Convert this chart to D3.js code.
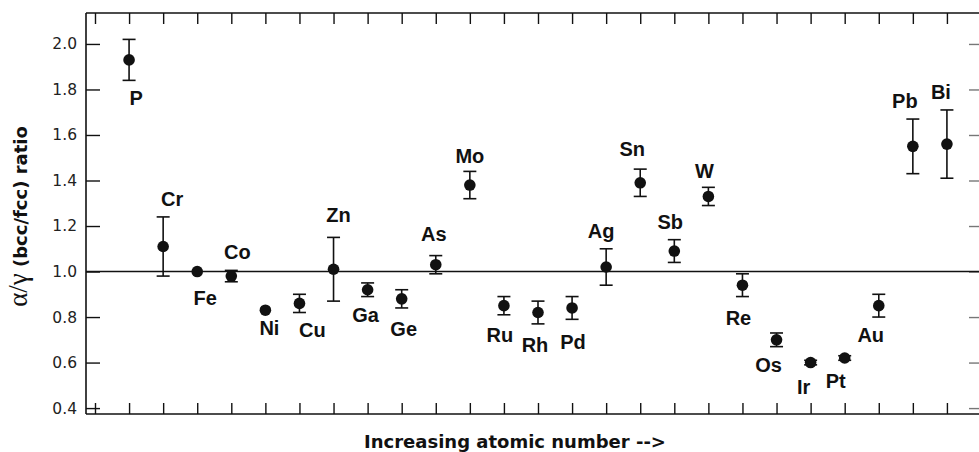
<!DOCTYPE html>
<html>
<head>
<meta charset="utf-8">
<script src="https://cdn.jsdelivr.net/npm/d3@7"></script>
<style>
  html, body { margin: 0; padding: 0; background: #fff; }
  svg { display: block; }
</style>
</head>
<body>
<svg id="chart" width="979" height="452"></svg>
<script>
// ---- data ----
const elements = ["P","Cr","Fe","Co","Ni","Cu","Zn","Ga","Ge","As","Mo","Ru","Rh","Pd","Ag","Sn","Sb","W","Re","Os","Ir","Pt","Au","Pb","Bi"];
const ratios   = [1.93,1.11,1.00,0.98,0.83,0.86,1.01,0.92,0.88,1.03,1.38,0.85,0.82,0.84,1.02,1.39,1.09,1.33,0.94,0.70,0.60,0.62,0.85,1.55,1.56];
const errors   = [0.09,0.13,0.00,0.025,0.00,0.04,0.14,0.03,0.04,0.04,0.06,0.04,0.05,0.05,0.08,0.06,0.05,0.04,0.05,0.03,0.01,0.01,0.05,0.12,0.15];
const labelSide = ["below","above","below","above","below","below","above","below","below","above","above","below","below","below","above","above","above","above","below","below","below","below","below","above","above"];
const yTickValues = [0.4,0.6,0.8,1.0,1.2,1.4,1.6,1.8,2.0];
const xTickValues = d3.range(0, 27);
const referenceLine = 1.0;

// ---- layout (label nudges in px) ----
const labelDx = [7,9,8,6,4,13,5,-2,2,-2,0,-4,-3,1,-5,-8,-4,-4,-4,-8,-7,-9,-8,-8,-6];
const labelDy = [0,0,8,0,0,0,-4,0,3,-4,3,2,3,5,0,-2,0,2,3,0,4,3,0,0,0];

const svg = d3.select("#chart");
const pL = 86, pR = 981, pT = 13, pB = 414;

const x = d3.scaleLinear().domain([-0.264, 26.0]).range([pL, pR]);
const y = d3.scaleLinear().domain([0.374, 2.136]).range([pB, pT]);

const ink = "#111";
const font = "'DejaVu Sans', Arial, sans-serif";
const labelFont = "'Liberation Sans', Arial, sans-serif";

// axes
const axisBottom = d3.axisBottom(x).tickValues(xTickValues).tickSize(-11).tickFormat("");
const axisTop = d3.axisTop(x).tickValues(xTickValues).tickSize(-11).tickFormat("");
const axisLeft = d3.axisLeft(y).tickValues(yTickValues).tickSize(-14).tickPadding(9).tickFormat(d3.format(".1f"));
const axisRight = d3.axisRight(y).tickValues(yTickValues).tickSize(-12).tickFormat("");

function style(g) {
  g.selectAll("path.domain").attr("stroke", ink).attr("stroke-width", 1.6);
  g.selectAll(".tick line").attr("stroke", ink).attr("stroke-width", 1.4);
  g.selectAll(".tick text").attr("fill", "#222").attr("font-family", font).attr("font-size", 15.5);
}
svg.append("g").attr("transform", `translate(0,${pB})`).call(axisBottom).call(g => g.select(".domain").attr("d", `M${pL},0H${pR}`)).call(style);
svg.append("g").attr("transform", `translate(0,${pT})`).call(axisTop).call(g => g.select(".domain").attr("d", `M${pL},0H${pR}`)).call(style);
svg.append("g").attr("transform", `translate(${pL},0)`).call(axisLeft).call(g => g.select(".domain").attr("d", `M0,${pT}V${pB}`)).call(style);
svg.append("g").attr("transform", `translate(${pR},0)`).call(axisRight).call(g => g.select(".domain").attr("d", `M0,${pT}V${pB}`)).call(style)
  .call(g => g.selectAll(".tick line").attr("stroke", "#777"));

// reference line
svg.append("line")
  .attr("x1", pL).attr("x2", pR)
  .attr("y1", y(referenceLine)).attr("y2", y(referenceLine))
  .attr("stroke", ink).attr("stroke-width", 1.6);

const data = elements.map((el, i) => ({ el, idx: i + 1, v: ratios[i], e: errors[i], side: labelSide[i], dx: labelDx[i], dy: labelDy[i] }));

// error bars
const eb = svg.append("g").selectAll("g").data(data.filter(d => d.e > 0)).join("g")
  .attr("stroke", ink).attr("stroke-width", 1.6);
eb.append("line").attr("x1", d => x(d.idx)).attr("x2", d => x(d.idx)).attr("y1", d => y(d.v + d.e)).attr("y2", d => y(d.v - d.e));
eb.append("line").attr("x1", d => x(d.idx) - 6.5).attr("x2", d => x(d.idx) + 6.5).attr("y1", d => y(d.v + d.e)).attr("y2", d => y(d.v + d.e));
eb.append("line").attr("x1", d => x(d.idx) - 6.5).attr("x2", d => x(d.idx) + 6.5).attr("y1", d => y(d.v - d.e)).attr("y2", d => y(d.v - d.e));

// points
svg.append("g").selectAll("circle").data(data).join("circle")
  .attr("cx", d => x(d.idx)).attr("cy", d => y(d.v)).attr("r", 5.8).attr("fill", ink);

// labels
svg.append("g").selectAll("text").data(data).join("text")
  .attr("x", d => x(d.idx) + d.dx)
  .attr("y", d => (d.side === "below" ? y(d.v - d.e) + 25 : y(d.v + d.e) - 11) + d.dy)
  .attr("text-anchor", "middle")
  .attr("font-family", labelFont).attr("font-weight", "bold").attr("font-size", 20)
  .attr("fill", ink)
  .text(d => d.el);

// axis titles
svg.append("text")
  .attr("x", 515).attr("y", 448)
  .attr("text-anchor", "middle")
  .attr("font-family", font).attr("font-weight", "bold").attr("font-size", 18)
  .attr("fill", ink)
  .text("Increasing atomic number -->");

const yt = svg.append("text")
  .attr("transform", `translate(27,${(pT + pB) / 2 + 3}) rotate(-90)`)
  .attr("text-anchor", "middle")
  .attr("fill", ink);
yt.append("tspan").attr("font-family", "'Liberation Serif', 'DejaVu Serif', serif").attr("font-size", 27).text("α/γ");
yt.append("tspan").attr("font-family", font).attr("font-weight", "bold").attr("font-size", 18).text(" (bcc/fcc) ratio");
</script>
</body>
</html>
